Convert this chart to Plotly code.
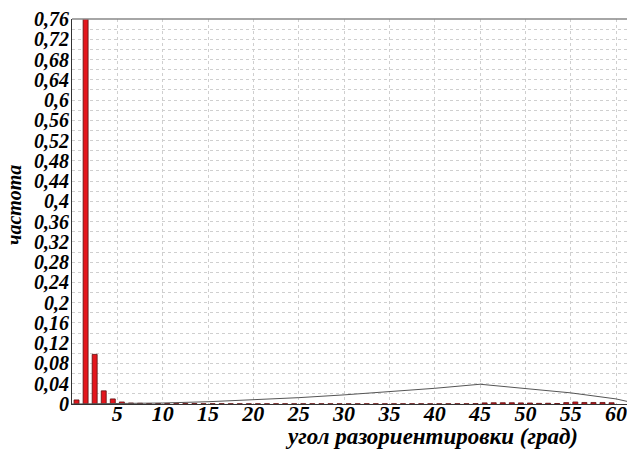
import plotly.graph_objects as go

# Histogram of misorientation angles (bin centres, degrees) and frequencies
bin_centers = [0.5, 1.5, 2.5, 3.5, 4.5, 5.5, 6.5, 7.5, 8.5, 9.5, 10.5, 11.5, 12.5, 13.5, 14.5,
               15.5, 16.5, 17.5, 18.5, 19.5, 20.5, 21.5, 22.5, 23.5, 24.5, 25.5, 26.5, 27.5, 28.5,
               29.5, 30.5, 31.5, 32.5, 33.5, 34.5, 35.5, 36.5, 37.5, 38.5, 39.5, 40.5, 41.5, 42.5,
               43.5, 44.5, 45.5, 46.5, 47.5, 48.5, 49.5, 50.5, 51.5, 52.5, 53.5, 54.5, 55.5, 56.5,
               57.5, 58.5, 59.5]
frequency = [0.008, 0.80, 0.098, 0.026, 0.010, 0.004, 0.002, 0.0015, 0.001, 0.001, 0.001, 0.0008,
             0.0008, 0.0008, 0.0006, 0.0006, 0.0006, 0.0005, 0.0005, 0.0005, 0.0005, 0.0005, 0.0005,
             0.0005, 0.0005, 0.0005, 0.0005, 0.0005, 0.0005, 0.0005, 0.0005, 0.0005, 0.0005, 0.0005,
             0.0005, 0.0005, 0.0005, 0.0005, 0.0005, 0.0005, 0.0005, 0.0005, 0.0005, 0.0005, 0.0008,
             0.0022, 0.0025, 0.0025, 0.0025, 0.0022, 0.0020, 0.0012, 0.0015, 0.0010, 0.0028, 0.0040,
             0.0030, 0.0030, 0.0030, 0.0025]

# Random (Mackenzie) reference curve
curve_angle = [0, 5, 10, 15, 20, 25, 30, 35, 40, 45, 50, 55, 60, 62.5]
curve_freq = [0.0, 0.0005, 0.002, 0.0045, 0.008, 0.0125, 0.018, 0.024, 0.031, 0.039, 0.031,
              0.022, 0.010, 0.0]

x_ticks = [5, 10, 15, 20, 25, 30, 35, 40, 45, 50, 55, 60]
y_ticks = [0, 0.04, 0.08, 0.12, 0.16, 0.2, 0.24, 0.28, 0.32, 0.36, 0.4, 0.44, 0.48, 0.52,
           0.56, 0.6, 0.64, 0.68, 0.72, 0.76]

font_family = "Liberation Serif"
L, R, T, B = 72, 0, 19, 47
W, H = 627, 451
pw, ph = W - L - R, H - T - B

fig = go.Figure()
fig.add_trace(go.Bar(
    x=bin_centers, y=frequency, width=0.55,
    marker=dict(color="#e3161d", line=dict(color="#5a1010", width=0.8)),
))
fig.add_trace(go.Scatter(
    x=curve_angle, y=curve_freq, mode="lines",
    line=dict(color="#555555", width=1),
))

fig.update_layout(
    width=W, height=H,
    margin=dict(l=L, r=R, t=T, b=B, autoexpand=False),
    paper_bgcolor="white", plot_bgcolor="white",
    showlegend=False,
    separators=", ",
    font=dict(family=font_family, color="black"),
    annotations=[
        dict(text="угол разориентировки (град)", x=(431 - L) / pw, y=-(436 - (T + ph)) / ph,
             xref="paper", yref="paper", xanchor="center", yanchor="middle", showarrow=False,
             font=dict(size=23, family=font_family, weight="bold", style="italic")),
        dict(text="частота", x=-(L - 14) / pw, y=(T + ph - 205) / ph, xref="paper",
             yref="paper", xanchor="center", yanchor="middle", showarrow=False, textangle=-90,
             font=dict(size=20, family=font_family, weight="bold", style="italic")),
    ],
)

fig.update_xaxes(
    range=[0, 61.2], tickvals=x_ticks, ticks="", showgrid=True, automargin=False,
    gridcolor="#cfcfcf", griddash="dot", gridwidth=1,
    showline=True, linecolor="#333333", linewidth=1,
    tickfont=dict(size=22, family=font_family, weight="bold", style="italic"),
    zeroline=False, ticklabelstandoff=-10, ticklabeloverflow="allow",
)
fig.update_yaxes(
    range=[0, 0.76], tickvals=y_ticks, ticks="", showgrid=True, automargin=False,
    gridcolor="#cfcfcf", griddash="dot", gridwidth=1,
    minor=dict(dtick=0.02, showgrid=True, gridcolor="#cfcfcf", griddash="dot"),
    showline=True, linecolor="#333333", linewidth=1,
    tickfont=dict(size=20, family=font_family, weight="bold", style="italic"),
    zeroline=False, ticklabelstandoff=-2, ticklabeloverflow="allow",
)
fig.add_shape(type="line", xref="paper", yref="paper", x0=0, x1=1, y0=1, y1=1,
              line=dict(color="#888888", width=1.5))

fig.write_html("out.html", config={"displayModeBar": False},
               post_script="document.body.style.margin='0';document.body.style.padding='0';")
